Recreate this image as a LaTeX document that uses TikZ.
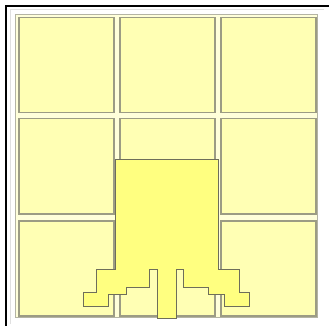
\documentclass[tikz,border=0pt]{standalone}
\usepackage{xcolor}
\definecolor{bgcream}{HTML}{FFFFDA}
\definecolor{cellfill}{HTML}{FFFFB4}
\definecolor{cellline}{HTML}{9C9C84}
\definecolor{cellinner}{HTML}{D8D8B8}
\definecolor{mainfill}{HTML}{FFFF80}
\definecolor{mainline}{HTML}{6E6E5A}
\definecolor{frameline}{HTML}{B4B4A4}
\tikzset{
  cellbox/.style={draw=cellline, fill=cellfill, line width=1.5pt, rectangle, inner sep=0pt, anchor=north west},
  mainshape/.style={draw=mainline, fill=mainfill, line width=0.8pt, line join=miter},
}
\begin{document}
\begin{tikzpicture}[x=1pt,y=-1pt]
\useasboundingbox (0,0) rectangle (329,326);
% outer white page
\fill[white] (0,0) rectangle (329,326);
% black frame (top and left)
\draw[black, line width=2.2pt] (6,335) -- (6,6) -- (335,6);
% light outer frame
\draw[black!12, line width=1pt] (10,324) -- (10,10) -- (324,10);
% cream background panel
\node[draw=frameline, fill=bgcream, line width=1.4pt, rectangle, inner sep=0pt, anchor=north west,
      minimum width=302pt, minimum height=303pt] (panel) at (15,14) {};
% 3x3 cells
\foreach \r/\y in {1/17,2/118,3/220}{
  \foreach \c/\x in {1/18,2/119,3/220}{
    \node[cellbox, minimum width=95pt, minimum height=95pt] (cell\r\c) at (\x,\y) {};
  }
}
% central shape
\draw[mainshape] (115,159) -- (218,159) -- (218,269) -- (239,269) -- (239,292) -- (249,292)
  -- (249,306) -- (224,306) -- (224,294) -- (208,294) -- (208,287) -- (183,287) -- (183,269)
  -- (176,269) -- (176,318) -- (157,318) -- (157,269) -- (149,269) -- (149,287) -- (126,287)
  -- (126,294) -- (108,294) -- (108,306) -- (83,306) -- (83,292) -- (96,292) -- (96,269)
  -- (115,269) -- cycle;
\end{tikzpicture}
\end{document}
